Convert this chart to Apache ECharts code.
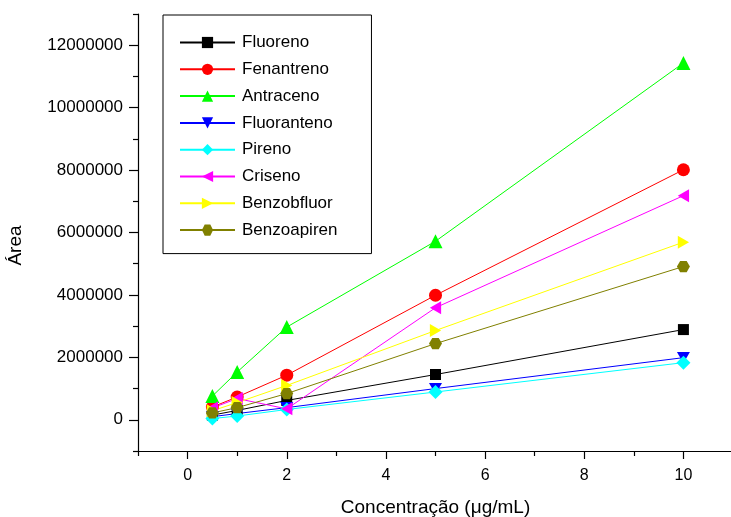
<!DOCTYPE html>
<html>
<head>
<meta charset="utf-8">
<script src="https://cdn.jsdelivr.net/npm/echarts@6/dist/echarts.min.js"></script>
<style>html,body{margin:0;padding:0;background:#fff;}#c{width:731px;height:517px;}</style>
</head>
<body>
<div id="c"></div>
<script>
var concentrations = [0.5, 1, 2, 5, 10];
var fluoreno    = [150000, 300000, 620000, 1450000, 2890000];
var fenantreno  = [410000, 730000, 1430000, 3990000, 8010000];
var antraceno   = [760000, 1530000, 2970000, 5720000, 11430000];
var fluoranteno = [100000, 200000, 390000, 1000000, 1990000];
var pireno      = [40000, 120000, 330000, 890000, 1830000];
var criseno     = [380000, 680000, 350000, 3590000, 7180000];
var benzobfluor = [290000, 550000, 1100000, 2860000, 5690000];
var benzoapiren = [220000, 390000, 840000, 2440000, 4910000];

var seriesNames = ['Fluoreno','Fenantreno','Antraceno','Fluoranteno','Pireno','Criseno','Benzobfluor','Benzoapiren'];
var seriesValues = [fluoreno, fenantreno, antraceno, fluoranteno, pireno, criseno, benzobfluor, benzoapiren];
var seriesColors = ['#000000','#ff0000','#00ff00','#0000ff','#00ffff','#ff00ff','#ffff00','#808000'];
var seriesSymbols = [
  'rect','circle','triangle',
  'path://M0,0 L10,0 L5,8.66 Z',
  'diamond',
  'path://M0,5 L8.66,0 L8.66,10 Z',
  'path://M0,0 L8.66,5 L0,10 Z',
  'path://M2.5,0 L7.5,0 L10,4.33 L7.5,8.66 L2.5,8.66 L0,4.33 Z'
];
var seriesSizes = [11, 13, 14, 13, 14, 13, 13, 13];

var yMajorTicks = [0, 2000000, 4000000, 6000000, 8000000, 10000000, 12000000];
var yMinorTicks = [-1000000, 1000000, 3000000, 5000000, 7000000, 9000000, 11000000, 13000000];
var xMajorTicks = [0, 2, 4, 6, 8, 10];
var xMinorTicks = [-1, 1, 3, 5, 7, 9, 11];

var FONT = "'Liberation Sans', Arial, sans-serif";
var chart = echarts.init(document.getElementById('c'), null, {renderer: 'canvas'});

var series = seriesNames.map(function (name, i) {
  return {
    name: name,
    type: 'line',
    xAxisIndex: 0,
    yAxisIndex: 0,
    data: concentrations.map(function (x, j) { return [x, seriesValues[i][j]]; }),
    symbol: seriesSymbols[i],
    symbolSize: seriesSizes[i],
    symbolKeepAspect: true,
    showAllSymbol: true,
    lineStyle: {color: seriesColors[i], width: 1},
    itemStyle: {color: seriesColors[i], opacity: 1},
    emphasis: {disabled: true},
    animation: false
  };
});

chart.setOption({
  backgroundColor: '#fff',
  animation: false,
  grid: {left: 138, top: 14, width: 595, height: 437, containLabel: false, outerBoundsMode: 'none'},
  legend: {
    left: 163, top: 15,
    orient: 'vertical',
    data: seriesNames,
    itemWidth: 55, itemHeight: 14,
    itemGap: 9.8,
    borderColor: '#000', borderWidth: 1,
    padding: [19, 34, 15, 16],
    textStyle: {fontFamily: FONT, fontSize: 17, color: '#000', lineHeight: 17, padding: [0, 0, 0, 2]}
  },
  xAxis: [
    {
      type: 'value', min: -1, max: 11, splitLine: {show: false},
      axisLine: {show: true, onZero: false, lineStyle: {color: '#000', width: 1.2}},
      name: 'Concentração (μg/mL)', nameLocation: 'middle', nameGap: 47,
      nameTextStyle: {fontFamily: FONT, fontSize: 19, color: '#000'},
      axisTick: {show: true, inside: false, length: 8, customValues: xMajorTicks, lineStyle: {color: '#000', width: 1.2}},
      axisLabel: {show: true, margin: 17, customValues: xMajorTicks, fontFamily: FONT, fontSize: 16, color: '#000'}
    },
    {
      type: 'value', min: -1, max: 11, splitLine: {show: false}, position: 'bottom',
      axisLine: {show: false, onZero: false},
      axisTick: {show: true, inside: false, length: 5, customValues: xMinorTicks, lineStyle: {color: '#000', width: 1.2}},
      axisLabel: {show: false}
    }
  ],
  yAxis: [
    {
      type: 'value', min: -1000000, max: 13000000, splitLine: {show: false},
      axisLine: {show: true, onZero: false, lineStyle: {color: '#000', width: 1.2}},
      name: 'Área', nameLocation: 'middle', nameGap: 113, nameRotate: 90,
      nameTextStyle: {fontFamily: FONT, fontSize: 19, color: '#000', padding: [0, 26, 0, 0]},
      axisTick: {show: true, inside: false, length: 9, customValues: yMajorTicks, lineStyle: {color: '#000', width: 1.2}},
      axisLabel: {show: true, margin: 15, customValues: yMajorTicks, fontFamily: FONT, fontSize: 17, color: '#000',
        formatter: function (v) { return String(Math.round(v)); }}
    },
    {
      type: 'value', min: -1000000, max: 13000000, splitLine: {show: false}, position: 'left',
      axisLine: {show: false, onZero: false},
      axisTick: {show: true, inside: false, length: 5, customValues: yMinorTicks, lineStyle: {color: '#000', width: 1.2}},
      axisLabel: {show: false}
    }
  ],
  series: series
});
</script>
</body>
</html>
